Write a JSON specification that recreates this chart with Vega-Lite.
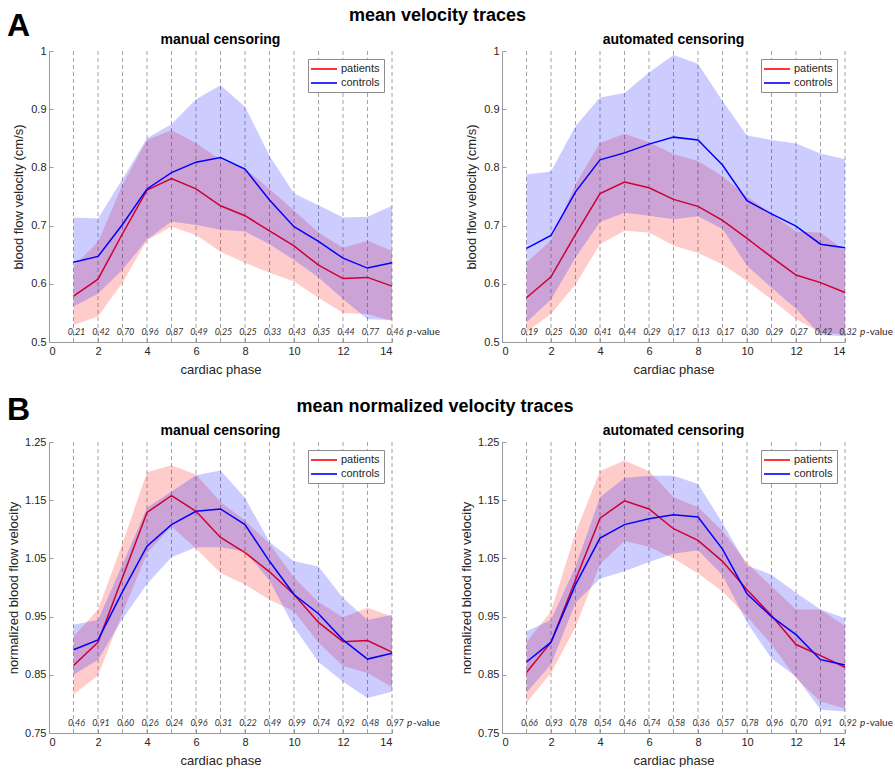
{
"$schema": "https://vega.github.io/schema/vega-lite/v6.json",
"padding": {"left": 7, "top": 7, "right": 0, "bottom": 0},
"datasets": {
"traces": [
{"panel":"A1","group":"patients","phase":1,"mean":0.579,"lo":0.529,"hi":0.630},
{"panel":"A1","group":"patients","phase":2,"mean":0.608,"lo":0.544,"hi":0.672},
{"panel":"A1","group":"patients","phase":3,"mean":0.686,"lo":0.602,"hi":0.770},
{"panel":"A1","group":"patients","phase":4,"mean":0.761,"lo":0.675,"hi":0.847},
{"panel":"A1","group":"patients","phase":5,"mean":0.781,"lo":0.698,"hi":0.864},
{"panel":"A1","group":"patients","phase":6,"mean":0.763,"lo":0.684,"hi":0.842},
{"panel":"A1","group":"patients","phase":7,"mean":0.734,"lo":0.655,"hi":0.813},
{"panel":"A1","group":"patients","phase":8,"mean":0.717,"lo":0.636,"hi":0.798},
{"panel":"A1","group":"patients","phase":9,"mean":0.691,"lo":0.619,"hi":0.763},
{"panel":"A1","group":"patients","phase":10,"mean":0.665,"lo":0.604,"hi":0.726},
{"panel":"A1","group":"patients","phase":11,"mean":0.632,"lo":0.576,"hi":0.688},
{"panel":"A1","group":"patients","phase":12,"mean":0.609,"lo":0.550,"hi":0.662},
{"panel":"A1","group":"patients","phase":13,"mean":0.611,"lo":0.548,"hi":0.674},
{"panel":"A1","group":"patients","phase":14,"mean":0.596,"lo":0.536,"hi":0.657},
{"panel":"A1","group":"controls","phase":1,"mean":0.637,"lo":0.561,"hi":0.714},
{"panel":"A1","group":"controls","phase":2,"mean":0.647,"lo":0.583,"hi":0.712},
{"panel":"A1","group":"controls","phase":3,"mean":0.702,"lo":0.624,"hi":0.780},
{"panel":"A1","group":"controls","phase":4,"mean":0.763,"lo":0.676,"hi":0.850},
{"panel":"A1","group":"controls","phase":5,"mean":0.791,"lo":0.707,"hi":0.874},
{"panel":"A1","group":"controls","phase":6,"mean":0.809,"lo":0.701,"hi":0.917},
{"panel":"A1","group":"controls","phase":7,"mean":0.817,"lo":0.693,"hi":0.941},
{"panel":"A1","group":"controls","phase":8,"mean":0.797,"lo":0.690,"hi":0.904},
{"panel":"A1","group":"controls","phase":9,"mean":0.744,"lo":0.668,"hi":0.820},
{"panel":"A1","group":"controls","phase":10,"mean":0.698,"lo":0.641,"hi":0.755},
{"panel":"A1","group":"controls","phase":11,"mean":0.673,"lo":0.611,"hi":0.735},
{"panel":"A1","group":"controls","phase":12,"mean":0.644,"lo":0.574,"hi":0.714},
{"panel":"A1","group":"controls","phase":13,"mean":0.627,"lo":0.539,"hi":0.715},
{"panel":"A1","group":"controls","phase":14,"mean":0.636,"lo":0.538,"hi":0.734},
{"panel":"A2","group":"patients","phase":1,"mean":0.576,"lo":0.517,"hi":0.636},
{"panel":"A2","group":"patients","phase":2,"mean":0.612,"lo":0.548,"hi":0.675},
{"panel":"A2","group":"patients","phase":3,"mean":0.685,"lo":0.599,"hi":0.771},
{"panel":"A2","group":"patients","phase":4,"mean":0.755,"lo":0.668,"hi":0.842},
{"panel":"A2","group":"patients","phase":5,"mean":0.775,"lo":0.691,"hi":0.858},
{"panel":"A2","group":"patients","phase":6,"mean":0.765,"lo":0.688,"hi":0.843},
{"panel":"A2","group":"patients","phase":7,"mean":0.745,"lo":0.666,"hi":0.823},
{"panel":"A2","group":"patients","phase":8,"mean":0.733,"lo":0.653,"hi":0.811},
{"panel":"A2","group":"patients","phase":9,"mean":0.709,"lo":0.633,"hi":0.785},
{"panel":"A2","group":"patients","phase":10,"mean":0.678,"lo":0.605,"hi":0.750},
{"panel":"A2","group":"patients","phase":11,"mean":0.646,"lo":0.573,"hi":0.720},
{"panel":"A2","group":"patients","phase":12,"mean":0.615,"lo":0.539,"hi":0.690},
{"panel":"A2","group":"patients","phase":13,"mean":0.602,"lo":0.516,"hi":0.688},
{"panel":"A2","group":"patients","phase":14,"mean":0.585,"lo":0.513,"hi":0.657},
{"panel":"A2","group":"controls","phase":1,"mean":0.661,"lo":0.534,"hi":0.788},
{"panel":"A2","group":"controls","phase":2,"mean":0.683,"lo":0.573,"hi":0.793},
{"panel":"A2","group":"controls","phase":3,"mean":0.758,"lo":0.645,"hi":0.871},
{"panel":"A2","group":"controls","phase":4,"mean":0.813,"lo":0.706,"hi":0.920},
{"panel":"A2","group":"controls","phase":5,"mean":0.825,"lo":0.722,"hi":0.928},
{"panel":"A2","group":"controls","phase":6,"mean":0.840,"lo":0.717,"hi":0.963},
{"panel":"A2","group":"controls","phase":7,"mean":0.852,"lo":0.711,"hi":0.993},
{"panel":"A2","group":"controls","phase":8,"mean":0.847,"lo":0.716,"hi":0.978},
{"panel":"A2","group":"controls","phase":9,"mean":0.804,"lo":0.694,"hi":0.914},
{"panel":"A2","group":"controls","phase":10,"mean":0.743,"lo":0.631,"hi":0.855},
{"panel":"A2","group":"controls","phase":11,"mean":0.720,"lo":0.593,"hi":0.847},
{"panel":"A2","group":"controls","phase":12,"mean":0.699,"lo":0.557,"hi":0.841},
{"panel":"A2","group":"controls","phase":13,"mean":0.668,"lo":0.512,"hi":0.824},
{"panel":"A2","group":"controls","phase":14,"mean":0.662,"lo":0.510,"hi":0.814},
{"panel":"B1","group":"patients","phase":1,"mean":0.866,"lo":0.816,"hi":0.916},
{"panel":"B1","group":"patients","phase":2,"mean":0.906,"lo":0.849,"hi":0.962},
{"panel":"B1","group":"patients","phase":3,"mean":1.017,"lo":0.956,"hi":1.076},
{"panel":"B1","group":"patients","phase":4,"mean":1.129,"lo":1.059,"hi":1.198},
{"panel":"B1","group":"patients","phase":5,"mean":1.158,"lo":1.105,"hi":1.210},
{"panel":"B1","group":"patients","phase":6,"mean":1.131,"lo":1.067,"hi":1.194},
{"panel":"B1","group":"patients","phase":7,"mean":1.086,"lo":1.025,"hi":1.147},
{"panel":"B1","group":"patients","phase":8,"mean":1.060,"lo":1.005,"hi":1.115},
{"panel":"B1","group":"patients","phase":9,"mean":1.027,"lo":0.979,"hi":1.075},
{"panel":"B1","group":"patients","phase":10,"mean":0.988,"lo":0.959,"hi":1.017},
{"panel":"B1","group":"patients","phase":11,"mean":0.940,"lo":0.905,"hi":0.975},
{"panel":"B1","group":"patients","phase":12,"mean":0.907,"lo":0.865,"hi":0.949},
{"panel":"B1","group":"patients","phase":13,"mean":0.909,"lo":0.853,"hi":0.965},
{"panel":"B1","group":"patients","phase":14,"mean":0.889,"lo":0.829,"hi":0.950},
{"panel":"B1","group":"controls","phase":1,"mean":0.893,"lo":0.850,"hi":0.936},
{"panel":"B1","group":"controls","phase":2,"mean":0.910,"lo":0.876,"hi":0.944},
{"panel":"B1","group":"controls","phase":3,"mean":0.993,"lo":0.946,"hi":1.040},
{"panel":"B1","group":"controls","phase":4,"mean":1.071,"lo":1.006,"hi":1.137},
{"panel":"B1","group":"controls","phase":5,"mean":1.108,"lo":1.052,"hi":1.165},
{"panel":"B1","group":"controls","phase":6,"mean":1.131,"lo":1.069,"hi":1.193},
{"panel":"B1","group":"controls","phase":7,"mean":1.135,"lo":1.069,"hi":1.201},
{"panel":"B1","group":"controls","phase":8,"mean":1.108,"lo":1.062,"hi":1.154},
{"panel":"B1","group":"controls","phase":9,"mean":1.045,"lo":1.012,"hi":1.078},
{"panel":"B1","group":"controls","phase":10,"mean":0.988,"lo":0.932,"hi":1.045},
{"panel":"B1","group":"controls","phase":11,"mean":0.955,"lo":0.872,"hi":1.036},
{"panel":"B1","group":"controls","phase":12,"mean":0.910,"lo":0.838,"hi":0.982},
{"panel":"B1","group":"controls","phase":13,"mean":0.877,"lo":0.810,"hi":0.944},
{"panel":"B1","group":"controls","phase":14,"mean":0.887,"lo":0.821,"hi":0.953},
{"panel":"B2","group":"patients","phase":1,"mean":0.854,"lo":0.802,"hi":0.906},
{"panel":"B2","group":"patients","phase":2,"mean":0.906,"lo":0.853,"hi":0.959},
{"panel":"B2","group":"patients","phase":3,"mean":1.013,"lo":0.932,"hi":1.094},
{"panel":"B2","group":"patients","phase":4,"mean":1.119,"lo":1.040,"hi":1.200},
{"panel":"B2","group":"patients","phase":5,"mean":1.149,"lo":1.080,"hi":1.218},
{"panel":"B2","group":"patients","phase":6,"mean":1.135,"lo":1.070,"hi":1.200},
{"panel":"B2","group":"patients","phase":7,"mean":1.101,"lo":1.050,"hi":1.155},
{"panel":"B2","group":"patients","phase":8,"mean":1.081,"lo":1.024,"hi":1.138},
{"panel":"B2","group":"patients","phase":9,"mean":1.045,"lo":0.993,"hi":1.097},
{"panel":"B2","group":"patients","phase":10,"mean":0.996,"lo":0.950,"hi":1.042},
{"panel":"B2","group":"patients","phase":11,"mean":0.952,"lo":0.902,"hi":1.002},
{"panel":"B2","group":"patients","phase":12,"mean":0.902,"lo":0.844,"hi":0.962},
{"panel":"B2","group":"patients","phase":13,"mean":0.883,"lo":0.804,"hi":0.962},
{"panel":"B2","group":"patients","phase":14,"mean":0.863,"lo":0.792,"hi":0.934},
{"panel":"B2","group":"controls","phase":1,"mean":0.872,"lo":0.819,"hi":0.925},
{"panel":"B2","group":"controls","phase":2,"mean":0.906,"lo":0.868,"hi":0.944},
{"panel":"B2","group":"controls","phase":3,"mean":1.005,"lo":0.974,"hi":1.036},
{"panel":"B2","group":"controls","phase":4,"mean":1.085,"lo":1.015,"hi":1.155},
{"panel":"B2","group":"controls","phase":5,"mean":1.108,"lo":1.028,"hi":1.188},
{"panel":"B2","group":"controls","phase":6,"mean":1.118,"lo":1.044,"hi":1.192},
{"panel":"B2","group":"controls","phase":7,"mean":1.125,"lo":1.058,"hi":1.192},
{"panel":"B2","group":"controls","phase":8,"mean":1.121,"lo":1.064,"hi":1.178},
{"panel":"B2","group":"controls","phase":9,"mean":1.066,"lo":1.021,"hi":1.111},
{"panel":"B2","group":"controls","phase":10,"mean":0.989,"lo":0.940,"hi":1.038},
{"panel":"B2","group":"controls","phase":11,"mean":0.950,"lo":0.878,"hi":1.022},
{"panel":"B2","group":"controls","phase":12,"mean":0.919,"lo":0.847,"hi":0.991},
{"panel":"B2","group":"controls","phase":13,"mean":0.876,"lo":0.790,"hi":0.962},
{"panel":"B2","group":"controls","phase":14,"mean":0.867,"lo":0.787,"hi":0.947}
],
"pvals": [
{"panel":"A1","phase":1,"p":"0,21"},{"panel":"A1","phase":2,"p":"0,42"},{"panel":"A1","phase":3,"p":"0,70"},{"panel":"A1","phase":4,"p":"0,96"},{"panel":"A1","phase":5,"p":"0,87"},{"panel":"A1","phase":6,"p":"0,49"},{"panel":"A1","phase":7,"p":"0,25"},{"panel":"A1","phase":8,"p":"0,25"},{"panel":"A1","phase":9,"p":"0,33"},{"panel":"A1","phase":10,"p":"0,43"},{"panel":"A1","phase":11,"p":"0,35"},{"panel":"A1","phase":12,"p":"0,44"},{"panel":"A1","phase":13,"p":"0,77"},{"panel":"A1","phase":14,"p":"0,46"},
{"panel":"A2","phase":1,"p":"0,19"},{"panel":"A2","phase":2,"p":"0,25"},{"panel":"A2","phase":3,"p":"0,30"},{"panel":"A2","phase":4,"p":"0,41"},{"panel":"A2","phase":5,"p":"0,44"},{"panel":"A2","phase":6,"p":"0,29"},{"panel":"A2","phase":7,"p":"0,17"},{"panel":"A2","phase":8,"p":"0,13"},{"panel":"A2","phase":9,"p":"0,17"},{"panel":"A2","phase":10,"p":"0,30"},{"panel":"A2","phase":11,"p":"0,29"},{"panel":"A2","phase":12,"p":"0,27"},{"panel":"A2","phase":13,"p":"0,42"},{"panel":"A2","phase":14,"p":"0,32"},
{"panel":"B1","phase":1,"p":"0,46"},{"panel":"B1","phase":2,"p":"0,91"},{"panel":"B1","phase":3,"p":"0,60"},{"panel":"B1","phase":4,"p":"0,26"},{"panel":"B1","phase":5,"p":"0,24"},{"panel":"B1","phase":6,"p":"0,96"},{"panel":"B1","phase":7,"p":"0,31"},{"panel":"B1","phase":8,"p":"0,22"},{"panel":"B1","phase":9,"p":"0,49"},{"panel":"B1","phase":10,"p":"0,99"},{"panel":"B1","phase":11,"p":"0,74"},{"panel":"B1","phase":12,"p":"0,92"},{"panel":"B1","phase":13,"p":"0,48"},{"panel":"B1","phase":14,"p":"0,97"},
{"panel":"B2","phase":1,"p":"0,66"},{"panel":"B2","phase":2,"p":"0,93"},{"panel":"B2","phase":3,"p":"0,78"},{"panel":"B2","phase":4,"p":"0,54"},{"panel":"B2","phase":5,"p":"0,46"},{"panel":"B2","phase":6,"p":"0,74"},{"panel":"B2","phase":7,"p":"0,58"},{"panel":"B2","phase":8,"p":"0,36"},{"panel":"B2","phase":9,"p":"0,57"},{"panel":"B2","phase":10,"p":"0,78"},{"panel":"B2","phase":11,"p":"0,96"},{"panel":"B2","phase":12,"p":"0,70"},{"panel":"B2","phase":13,"p":"0,91"},{"panel":"B2","phase":14,"p":"0,92"}
]
},
"vconcat": [
{
"title": {"text": "A", "anchor": "start", "frame": "bounds", "fontSize": 32, "offset": -36, "dx": -5},
"resolve": {"scale": {"x": "independent", "y": "independent", "color": "independent"}, "legend": {"color": "independent"}},
"vconcat": [
{
"title": {"text": "mean velocity traces", "fontSize": 18, "offset": 8, "anchor": "middle", "dx": -15},
"spacing": 25,
"resolve": {"scale": {"x": "independent", "y": "independent", "color": "independent"}, "legend": {"color": "independent"}},
"hconcat": [
{
"width": 343, "height": 291,
"title": {"text": "manual censoring"},
"layer": [
{"data": {"name": "pvals"}, "transform": [{"filter": "datum.panel === 'A1'"}], "mark": {"type": "rule", "color": "#8c8c8c", "strokeWidth": 0.8, "strokeDash": [4, 3]}, "encoding": {"x": {"field": "phase", "type": "quantitative", "scale": {"domain": [0, 14]}, "axis": {"values": [0,2,4,6,8,10,12,14], "format": "d"}, "title": "cardiac phase"}}},
{"data": {"name": "traces"}, "transform": [{"filter": "datum.panel === 'A1' && datum.group === 'patients'"}], "mark": {"type": "area", "color": "#ff0000", "opacity": 0.2}, "encoding": {"x": {"field": "phase", "type": "quantitative", "scale": {"domain": [0, 14]}, "axis": {"values": [0,2,4,6,8,10,12,14], "format": "d"}, "title": "cardiac phase"}, "y": {"field": "lo", "type": "quantitative", "scale": {"domain": [0.5, 1]}, "axis": {"values": [0.5,0.6,0.7,0.8,0.9,1], "format": ".1~f", "minExtent": 21, "maxExtent": 21}, "title": "blood flow velocity (cm/s)"}, "y2": {"field": "hi"}}},
{"data": {"name": "traces"}, "transform": [{"filter": "datum.panel === 'A1' && datum.group === 'patients'"}], "mark": {"type": "line", "strokeWidth": 1.5}, "encoding": {"x": {"field": "phase", "type": "quantitative", "scale": {"domain": [0, 14]}, "axis": {"values": [0,2,4,6,8,10,12,14], "format": "d"}, "title": "cardiac phase"}, "y": {"field": "mean", "type": "quantitative", "scale": {"domain": [0.5, 1]}, "axis": {"values": [0.5,0.6,0.7,0.8,0.9,1], "format": ".1~f", "minExtent": 21, "maxExtent": 21}, "title": "blood flow velocity (cm/s)"}, "color": {"field": "group", "type": "nominal", "scale": {"domain": ["patients", "controls"], "range": ["#ff0000", "#0000ff"]}, "legend": {"orient": "top-right", "offset": 8, "title": null}}}},
{"data": {"name": "traces"}, "transform": [{"filter": "datum.panel === 'A1' && datum.group === 'controls'"}], "mark": {"type": "area", "color": "#0000ff", "opacity": 0.2}, "encoding": {"x": {"field": "phase", "type": "quantitative", "scale": {"domain": [0, 14]}, "axis": {"values": [0,2,4,6,8,10,12,14], "format": "d"}, "title": "cardiac phase"}, "y": {"field": "lo", "type": "quantitative", "scale": {"domain": [0.5, 1]}, "axis": {"values": [0.5,0.6,0.7,0.8,0.9,1], "format": ".1~f", "minExtent": 21, "maxExtent": 21}, "title": "blood flow velocity (cm/s)"}, "y2": {"field": "hi"}}},
{"data": {"name": "traces"}, "transform": [{"filter": "datum.panel === 'A1' && datum.group === 'controls'"}], "mark": {"type": "line", "strokeWidth": 1.5}, "encoding": {"x": {"field": "phase", "type": "quantitative", "scale": {"domain": [0, 14]}, "axis": {"values": [0,2,4,6,8,10,12,14], "format": "d"}, "title": "cardiac phase"}, "y": {"field": "mean", "type": "quantitative", "scale": {"domain": [0.5, 1]}, "axis": {"values": [0.5,0.6,0.7,0.8,0.9,1], "format": ".1~f", "minExtent": 21, "maxExtent": 21}, "title": "blood flow velocity (cm/s)"}, "color": {"field": "group", "type": "nominal", "scale": {"domain": ["patients", "controls"], "range": ["#ff0000", "#0000ff"]}, "legend": {"orient": "top-right", "offset": 8, "title": null}}}},
{"data": {"name": "pvals"}, "transform": [{"filter": "datum.panel === 'A1'"}], "mark": {"type": "text", "clip": false, "font": "Lato", "fontStyle": "italic", "fontSize": 9, "dx": 3, "align": "center", "baseline": "middle", "color": "#333333"}, "encoding": {"x": {"field": "phase", "type": "quantitative", "scale": {"domain": [0, 14]}, "axis": {"values": [0,2,4,6,8,10,12,14], "format": "d"}, "title": "cardiac phase"}, "y": {"datum": 0.517, "scale": {"domain": [0.5, 1]}}, "text": {"field": "p"}}},
{"data": {"values": [{"t": "p"}]}, "mark": {"type": "text", "clip": false, "font": "Lato", "fontStyle": "italic", "fontSize": 10, "dx": 15, "align": "left", "baseline": "middle", "color": "#262626"}, "encoding": {"x": {"datum": 14, "scale": {"domain": [0, 14]}}, "y": {"datum": 0.517, "scale": {"domain": [0.5, 1]}}, "text": {"field": "t"}}},
{"data": {"values": [{"t": "-value"}]}, "mark": {"type": "text", "clip": false, "font": "Lato", "fontSize": 10, "dx": 21, "align": "left", "baseline": "middle", "color": "#262626"}, "encoding": {"x": {"datum": 14, "scale": {"domain": [0, 14]}}, "y": {"datum": 0.517, "scale": {"domain": [0.5, 1]}}, "text": {"field": "t"}}}
]
},
{
"width": 343, "height": 291,
"title": {"text": "automated censoring"},
"layer": [
{"data": {"name": "pvals"}, "transform": [{"filter": "datum.panel === 'A2'"}], "mark": {"type": "rule", "color": "#8c8c8c", "strokeWidth": 0.8, "strokeDash": [4, 3]}, "encoding": {"x": {"field": "phase", "type": "quantitative", "scale": {"domain": [0, 14]}, "axis": {"values": [0,2,4,6,8,10,12,14], "format": "d"}, "title": "cardiac phase"}}},
{"data": {"name": "traces"}, "transform": [{"filter": "datum.panel === 'A2' && datum.group === 'patients'"}], "mark": {"type": "area", "color": "#ff0000", "opacity": 0.2}, "encoding": {"x": {"field": "phase", "type": "quantitative", "scale": {"domain": [0, 14]}, "axis": {"values": [0,2,4,6,8,10,12,14], "format": "d"}, "title": "cardiac phase"}, "y": {"field": "lo", "type": "quantitative", "scale": {"domain": [0.5, 1]}, "axis": {"values": [0.5,0.6,0.7,0.8,0.9,1], "format": ".1~f", "minExtent": 21, "maxExtent": 21}, "title": "blood flow velocity (cm/s)"}, "y2": {"field": "hi"}}},
{"data": {"name": "traces"}, "transform": [{"filter": "datum.panel === 'A2' && datum.group === 'patients'"}], "mark": {"type": "line", "strokeWidth": 1.5}, "encoding": {"x": {"field": "phase", "type": "quantitative", "scale": {"domain": [0, 14]}, "axis": {"values": [0,2,4,6,8,10,12,14], "format": "d"}, "title": "cardiac phase"}, "y": {"field": "mean", "type": "quantitative", "scale": {"domain": [0.5, 1]}, "axis": {"values": [0.5,0.6,0.7,0.8,0.9,1], "format": ".1~f", "minExtent": 21, "maxExtent": 21}, "title": "blood flow velocity (cm/s)"}, "color": {"field": "group", "type": "nominal", "scale": {"domain": ["patients", "controls"], "range": ["#ff0000", "#0000ff"]}, "legend": {"orient": "top-right", "offset": 8, "title": null}}}},
{"data": {"name": "traces"}, "transform": [{"filter": "datum.panel === 'A2' && datum.group === 'controls'"}], "mark": {"type": "area", "color": "#0000ff", "opacity": 0.2}, "encoding": {"x": {"field": "phase", "type": "quantitative", "scale": {"domain": [0, 14]}, "axis": {"values": [0,2,4,6,8,10,12,14], "format": "d"}, "title": "cardiac phase"}, "y": {"field": "lo", "type": "quantitative", "scale": {"domain": [0.5, 1]}, "axis": {"values": [0.5,0.6,0.7,0.8,0.9,1], "format": ".1~f", "minExtent": 21, "maxExtent": 21}, "title": "blood flow velocity (cm/s)"}, "y2": {"field": "hi"}}},
{"data": {"name": "traces"}, "transform": [{"filter": "datum.panel === 'A2' && datum.group === 'controls'"}], "mark": {"type": "line", "strokeWidth": 1.5}, "encoding": {"x": {"field": "phase", "type": "quantitative", "scale": {"domain": [0, 14]}, "axis": {"values": [0,2,4,6,8,10,12,14], "format": "d"}, "title": "cardiac phase"}, "y": {"field": "mean", "type": "quantitative", "scale": {"domain": [0.5, 1]}, "axis": {"values": [0.5,0.6,0.7,0.8,0.9,1], "format": ".1~f", "minExtent": 21, "maxExtent": 21}, "title": "blood flow velocity (cm/s)"}, "color": {"field": "group", "type": "nominal", "scale": {"domain": ["patients", "controls"], "range": ["#ff0000", "#0000ff"]}, "legend": {"orient": "top-right", "offset": 8, "title": null}}}},
{"data": {"name": "pvals"}, "transform": [{"filter": "datum.panel === 'A2'"}], "mark": {"type": "text", "clip": false, "font": "Lato", "fontStyle": "italic", "fontSize": 9, "dx": 3, "align": "center", "baseline": "middle", "color": "#333333"}, "encoding": {"x": {"field": "phase", "type": "quantitative", "scale": {"domain": [0, 14]}, "axis": {"values": [0,2,4,6,8,10,12,14], "format": "d"}, "title": "cardiac phase"}, "y": {"datum": 0.517, "scale": {"domain": [0.5, 1]}}, "text": {"field": "p"}}},
{"data": {"values": [{"t": "p"}]}, "mark": {"type": "text", "clip": false, "font": "Lato", "fontStyle": "italic", "fontSize": 10, "dx": 15, "align": "left", "baseline": "middle", "color": "#262626"}, "encoding": {"x": {"datum": 14, "scale": {"domain": [0, 14]}}, "y": {"datum": 0.517, "scale": {"domain": [0.5, 1]}}, "text": {"field": "t"}}},
{"data": {"values": [{"t": "-value"}]}, "mark": {"type": "text", "clip": false, "font": "Lato", "fontSize": 10, "dx": 21, "align": "left", "baseline": "middle", "color": "#262626"}, "encoding": {"x": {"datum": 14, "scale": {"domain": [0, 14]}}, "y": {"datum": 0.517, "scale": {"domain": [0.5, 1]}}, "text": {"field": "t"}}}
]
}
]
}
]
},
{
"title": {"text": "B", "anchor": "start", "frame": "bounds", "fontSize": 32, "offset": -29},
"resolve": {"scale": {"x": "independent", "y": "independent", "color": "independent"}, "legend": {"color": "independent"}},
"vconcat": [
{
"title": {"text": "mean normalized velocity traces", "fontSize": 18, "offset": 8, "anchor": "middle", "dx": -15},
"spacing": 20,
"resolve": {"scale": {"x": "independent", "y": "independent", "color": "independent"}, "legend": {"color": "independent"}},
"hconcat": [
{
"width": 343, "height": 291,
"title": {"text": "manual censoring"},
"layer": [
{"data": {"name": "pvals"}, "transform": [{"filter": "datum.panel === 'B1'"}], "mark": {"type": "rule", "color": "#8c8c8c", "strokeWidth": 0.8, "strokeDash": [4, 3]}, "encoding": {"x": {"field": "phase", "type": "quantitative", "scale": {"domain": [0, 14]}, "axis": {"values": [0,2,4,6,8,10,12,14], "format": "d"}, "title": "cardiac phase"}}},
{"data": {"name": "traces"}, "transform": [{"filter": "datum.panel === 'B1' && datum.group === 'patients'"}], "mark": {"type": "area", "color": "#ff0000", "opacity": 0.2}, "encoding": {"x": {"field": "phase", "type": "quantitative", "scale": {"domain": [0, 14]}, "axis": {"values": [0,2,4,6,8,10,12,14], "format": "d"}, "title": "cardiac phase"}, "y": {"field": "lo", "type": "quantitative", "scale": {"domain": [0.75, 1.25]}, "axis": {"values": [0.75,0.85,0.95,1.05,1.15,1.25], "format": ".2f"}, "title": "normalized blood flow velocity"}, "y2": {"field": "hi"}}},
{"data": {"name": "traces"}, "transform": [{"filter": "datum.panel === 'B1' && datum.group === 'patients'"}], "mark": {"type": "line", "strokeWidth": 1.5}, "encoding": {"x": {"field": "phase", "type": "quantitative", "scale": {"domain": [0, 14]}, "axis": {"values": [0,2,4,6,8,10,12,14], "format": "d"}, "title": "cardiac phase"}, "y": {"field": "mean", "type": "quantitative", "scale": {"domain": [0.75, 1.25]}, "axis": {"values": [0.75,0.85,0.95,1.05,1.15,1.25], "format": ".2f"}, "title": "normalized blood flow velocity"}, "color": {"field": "group", "type": "nominal", "scale": {"domain": ["patients", "controls"], "range": ["#ff0000", "#0000ff"]}, "legend": {"orient": "top-right", "offset": 8, "title": null}}}},
{"data": {"name": "traces"}, "transform": [{"filter": "datum.panel === 'B1' && datum.group === 'controls'"}], "mark": {"type": "area", "color": "#0000ff", "opacity": 0.2}, "encoding": {"x": {"field": "phase", "type": "quantitative", "scale": {"domain": [0, 14]}, "axis": {"values": [0,2,4,6,8,10,12,14], "format": "d"}, "title": "cardiac phase"}, "y": {"field": "lo", "type": "quantitative", "scale": {"domain": [0.75, 1.25]}, "axis": {"values": [0.75,0.85,0.95,1.05,1.15,1.25], "format": ".2f"}, "title": "normalized blood flow velocity"}, "y2": {"field": "hi"}}},
{"data": {"name": "traces"}, "transform": [{"filter": "datum.panel === 'B1' && datum.group === 'controls'"}], "mark": {"type": "line", "strokeWidth": 1.5}, "encoding": {"x": {"field": "phase", "type": "quantitative", "scale": {"domain": [0, 14]}, "axis": {"values": [0,2,4,6,8,10,12,14], "format": "d"}, "title": "cardiac phase"}, "y": {"field": "mean", "type": "quantitative", "scale": {"domain": [0.75, 1.25]}, "axis": {"values": [0.75,0.85,0.95,1.05,1.15,1.25], "format": ".2f"}, "title": "normalized blood flow velocity"}, "color": {"field": "group", "type": "nominal", "scale": {"domain": ["patients", "controls"], "range": ["#ff0000", "#0000ff"]}, "legend": {"orient": "top-right", "offset": 8, "title": null}}}},
{"data": {"name": "pvals"}, "transform": [{"filter": "datum.panel === 'B1'"}], "mark": {"type": "text", "clip": false, "font": "Lato", "fontStyle": "italic", "fontSize": 9, "dx": 3, "align": "center", "baseline": "middle", "color": "#333333"}, "encoding": {"x": {"field": "phase", "type": "quantitative", "scale": {"domain": [0, 14]}, "axis": {"values": [0,2,4,6,8,10,12,14], "format": "d"}, "title": "cardiac phase"}, "y": {"datum": 0.768, "scale": {"domain": [0.75, 1.25]}}, "text": {"field": "p"}}},
{"data": {"values": [{"t": "p"}]}, "mark": {"type": "text", "clip": false, "font": "Lato", "fontStyle": "italic", "fontSize": 10, "dx": 15, "align": "left", "baseline": "middle", "color": "#262626"}, "encoding": {"x": {"datum": 14, "scale": {"domain": [0, 14]}}, "y": {"datum": 0.768, "scale": {"domain": [0.75, 1.25]}}, "text": {"field": "t"}}},
{"data": {"values": [{"t": "-value"}]}, "mark": {"type": "text", "clip": false, "font": "Lato", "fontSize": 10, "dx": 21, "align": "left", "baseline": "middle", "color": "#262626"}, "encoding": {"x": {"datum": 14, "scale": {"domain": [0, 14]}}, "y": {"datum": 0.768, "scale": {"domain": [0.75, 1.25]}}, "text": {"field": "t"}}}
]
},
{
"width": 343, "height": 291,
"title": {"text": "automated censoring"},
"layer": [
{"data": {"name": "pvals"}, "transform": [{"filter": "datum.panel === 'B2'"}], "mark": {"type": "rule", "color": "#8c8c8c", "strokeWidth": 0.8, "strokeDash": [4, 3]}, "encoding": {"x": {"field": "phase", "type": "quantitative", "scale": {"domain": [0, 14]}, "axis": {"values": [0,2,4,6,8,10,12,14], "format": "d"}, "title": "cardiac phase"}}},
{"data": {"name": "traces"}, "transform": [{"filter": "datum.panel === 'B2' && datum.group === 'patients'"}], "mark": {"type": "area", "color": "#ff0000", "opacity": 0.2}, "encoding": {"x": {"field": "phase", "type": "quantitative", "scale": {"domain": [0, 14]}, "axis": {"values": [0,2,4,6,8,10,12,14], "format": "d"}, "title": "cardiac phase"}, "y": {"field": "lo", "type": "quantitative", "scale": {"domain": [0.75, 1.25]}, "axis": {"values": [0.75,0.85,0.95,1.05,1.15,1.25], "format": ".2f"}, "title": "normalized blood flow velocity"}, "y2": {"field": "hi"}}},
{"data": {"name": "traces"}, "transform": [{"filter": "datum.panel === 'B2' && datum.group === 'patients'"}], "mark": {"type": "line", "strokeWidth": 1.5}, "encoding": {"x": {"field": "phase", "type": "quantitative", "scale": {"domain": [0, 14]}, "axis": {"values": [0,2,4,6,8,10,12,14], "format": "d"}, "title": "cardiac phase"}, "y": {"field": "mean", "type": "quantitative", "scale": {"domain": [0.75, 1.25]}, "axis": {"values": [0.75,0.85,0.95,1.05,1.15,1.25], "format": ".2f"}, "title": "normalized blood flow velocity"}, "color": {"field": "group", "type": "nominal", "scale": {"domain": ["patients", "controls"], "range": ["#ff0000", "#0000ff"]}, "legend": {"orient": "top-right", "offset": 8, "title": null}}}},
{"data": {"name": "traces"}, "transform": [{"filter": "datum.panel === 'B2' && datum.group === 'controls'"}], "mark": {"type": "area", "color": "#0000ff", "opacity": 0.2}, "encoding": {"x": {"field": "phase", "type": "quantitative", "scale": {"domain": [0, 14]}, "axis": {"values": [0,2,4,6,8,10,12,14], "format": "d"}, "title": "cardiac phase"}, "y": {"field": "lo", "type": "quantitative", "scale": {"domain": [0.75, 1.25]}, "axis": {"values": [0.75,0.85,0.95,1.05,1.15,1.25], "format": ".2f"}, "title": "normalized blood flow velocity"}, "y2": {"field": "hi"}}},
{"data": {"name": "traces"}, "transform": [{"filter": "datum.panel === 'B2' && datum.group === 'controls'"}], "mark": {"type": "line", "strokeWidth": 1.5}, "encoding": {"x": {"field": "phase", "type": "quantitative", "scale": {"domain": [0, 14]}, "axis": {"values": [0,2,4,6,8,10,12,14], "format": "d"}, "title": "cardiac phase"}, "y": {"field": "mean", "type": "quantitative", "scale": {"domain": [0.75, 1.25]}, "axis": {"values": [0.75,0.85,0.95,1.05,1.15,1.25], "format": ".2f"}, "title": "normalized blood flow velocity"}, "color": {"field": "group", "type": "nominal", "scale": {"domain": ["patients", "controls"], "range": ["#ff0000", "#0000ff"]}, "legend": {"orient": "top-right", "offset": 8, "title": null}}}},
{"data": {"name": "pvals"}, "transform": [{"filter": "datum.panel === 'B2'"}], "mark": {"type": "text", "clip": false, "font": "Lato", "fontStyle": "italic", "fontSize": 9, "dx": 3, "align": "center", "baseline": "middle", "color": "#333333"}, "encoding": {"x": {"field": "phase", "type": "quantitative", "scale": {"domain": [0, 14]}, "axis": {"values": [0,2,4,6,8,10,12,14], "format": "d"}, "title": "cardiac phase"}, "y": {"datum": 0.768, "scale": {"domain": [0.75, 1.25]}}, "text": {"field": "p"}}},
{"data": {"values": [{"t": "p"}]}, "mark": {"type": "text", "clip": false, "font": "Lato", "fontStyle": "italic", "fontSize": 10, "dx": 15, "align": "left", "baseline": "middle", "color": "#262626"}, "encoding": {"x": {"datum": 14, "scale": {"domain": [0, 14]}}, "y": {"datum": 0.768, "scale": {"domain": [0.75, 1.25]}}, "text": {"field": "t"}}},
{"data": {"values": [{"t": "-value"}]}, "mark": {"type": "text", "clip": false, "font": "Lato", "fontSize": 10, "dx": 21, "align": "left", "baseline": "middle", "color": "#262626"}, "encoding": {"x": {"datum": 14, "scale": {"domain": [0, 14]}}, "y": {"datum": 0.768, "scale": {"domain": [0.75, 1.25]}}, "text": {"field": "t"}}}
]
}
]
}
]
}
],
"spacing": 18,
"resolve": {"scale": {"x": "independent", "y": "independent", "color": "independent"}, "legend": {"color": "independent"}},
"config": {
"view": {"stroke": null},
"font": "Liberation Sans",
"axis": {"grid": false, "domainColor": "#9a9a9a", "tickColor": "#9a9a9a", "labelColor": "#262626", "labelFont": "Liberation Sans", "labelFontSize": 11, "titleFont": "Liberation Sans", "titleFontSize": 13, "titleFontWeight": "normal", "titleColor": "#262626", "tickSize": -4, "labelPadding": 7},
"axisY": {"titlePadding": 3, "minExtent": 26, "maxExtent": 26},
"axisX": {"titlePadding": 7},
"title": {"font": "Liberation Sans", "fontWeight": "bold", "color": "#000000", "fontSize": 14, "offset": -2},
"legend": {"symbolType": "M-2.6,0L2.6,0", "symbolSize": 100, "symbolStrokeWidth": 1.6, "symbolOffset": 6, "labelOffset": 11, "labelFont": "Liberation Sans", "labelFontSize": 11, "labelColor": "#262626", "padding": 4, "rowPadding": 3, "strokeColor": "#8c8c8c", "fillColor": "#ffffff", "cornerRadius": 0}
}
}
